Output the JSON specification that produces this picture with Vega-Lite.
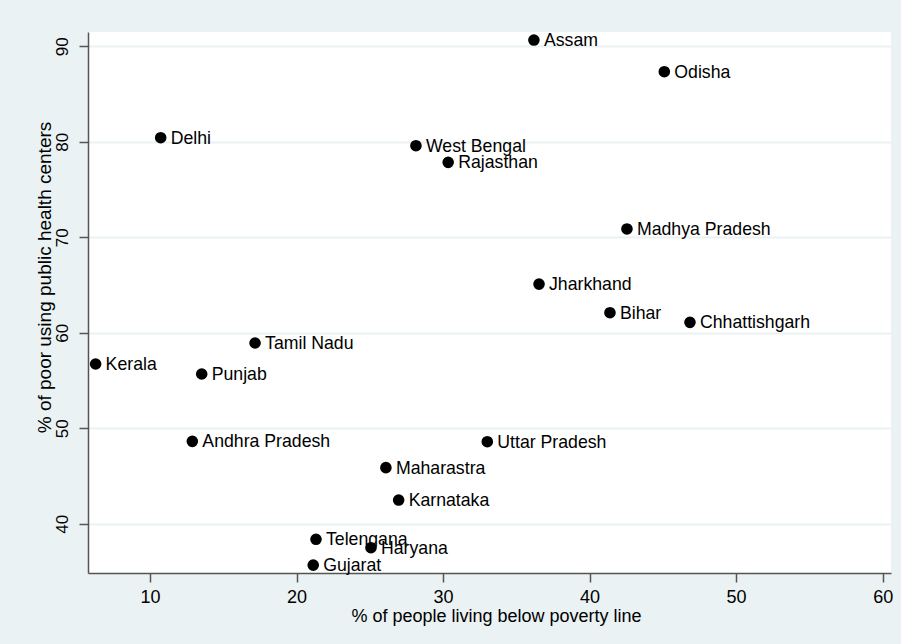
{
  "$schema": "https://vega.github.io/schema/vega-lite/v6.json",
  "width": 803,
  "height": 541,
  "autosize": {"type": "none"},
  "padding": {"left": 88, "top": 32, "right": 10, "bottom": 71},
  "background": "#EAF2F3",
  "config": {"view": {"fill": "white", "stroke": null}, "font": "Liberation Sans"},
  "data": {
    "values": [
      {"state": "Assam", "poverty": 36.2, "public": 90.66},
      {"state": "Odisha", "poverty": 45.1, "public": 87.34},
      {"state": "Delhi", "poverty": 10.73, "public": 80.43},
      {"state": "West Bengal", "poverty": 28.15, "public": 79.59},
      {"state": "Rajasthan", "poverty": 30.35, "public": 77.85},
      {"state": "Madhya Pradesh", "poverty": 42.55, "public": 70.87},
      {"state": "Jharkhand", "poverty": 36.55, "public": 65.1},
      {"state": "Bihar", "poverty": 41.39, "public": 62.1},
      {"state": "Chhattishgarh", "poverty": 46.85, "public": 61.09},
      {"state": "Tamil Nadu", "poverty": 17.17, "public": 58.93},
      {"state": "Kerala", "poverty": 6.29, "public": 56.73},
      {"state": "Punjab", "poverty": 13.53, "public": 55.68},
      {"state": "Andhra Pradesh", "poverty": 12.89, "public": 48.63},
      {"state": "Uttar Pradesh", "poverty": 33.02, "public": 48.59},
      {"state": "Maharastra", "poverty": 26.1, "public": 45.87},
      {"state": "Karnataka", "poverty": 26.97, "public": 42.48},
      {"state": "Telengana", "poverty": 21.33, "public": 38.37},
      {"state": "Haryana", "poverty": 25.08, "public": 37.49},
      {"state": "Gujarat", "poverty": 21.14, "public": 35.67}
    ]
  },
  "encoding": {
    "x": {
      "field": "poverty",
      "type": "quantitative",
      "scale": {"domain": [5.77, 60.57], "nice": false, "zero": false},
      "axis": {
        "title": "% of people living below poverty line",
        "values": [10, 20, 30, 40, 50, 60],
        "grid": false,
        "domainColor": "#555555",
        "domainWidth": 1.5,
        "tickColor": "#555555",
        "tickWidth": 1.5,
        "tickSize": 9,
        "labelFontSize": 18,
        "labelPadding": 6,
        "labelColor": "black",
        "labelFlush": false,
        "titleFontSize": 18,
        "titleFontWeight": "normal",
        "titleColor": "black",
        "titleX": 408,
        "titleY": 48,
        "titleBaseline": "alphabetic",
        "titleAlign": "center"
      }
    },
    "y": {
      "field": "public",
      "type": "quantitative",
      "scale": {"domain": [34.84, 91.5], "nice": false, "zero": false},
      "axis": {
        "title": "% of poor using public health centers",
        "values": [40, 50, 60, 70, 80, 90],
        "grid": true,
        "gridColor": "#EAF2F3",
        "gridWidth": 2,
        "gridOpacity": 1,
        "domainColor": "#555555",
        "domainWidth": 1.5,
        "tickColor": "#555555",
        "tickWidth": 1.5,
        "tickSize": 9,
        "labelAngle": 270,
        "labelAlign": "center",
        "labelBaseline": "bottom",
        "labelPadding": 8,
        "labelFontSize": 17,
        "labelColor": "black",
        "labelFlush": false,
        "titleFontSize": 19,
        "titleFontWeight": "normal",
        "titleColor": "black",
        "titleAngle": 270,
        "titleX": -38,
        "titleY": 245,
        "titleBaseline": "alphabetic",
        "titleAlign": "center"
      }
    }
  },
  "layer": [
    {"mark": {"type": "circle", "size": 135, "color": "black", "opacity": 1}},
    {
      "mark": {"type": "text", "align": "left", "baseline": "middle", "dx": 10, "dy": 1, "fontSize": 17.7, "color": "black"},
      "encoding": {"text": {"field": "state", "type": "nominal"}}
    }
  ]
}
